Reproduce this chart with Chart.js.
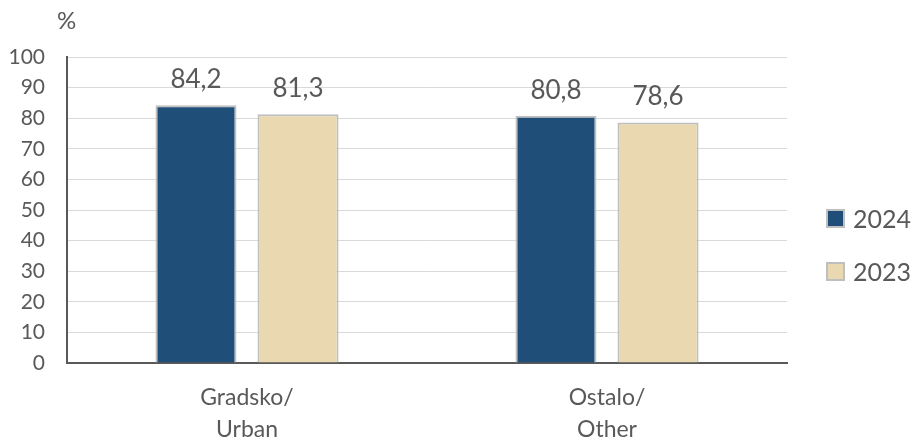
<!DOCTYPE html>
<html>
<head>
<meta charset="utf-8">
<script src="https://cdn.jsdelivr.net/npm/chart.js@4/dist/chart.umd.min.js"></script>
<style>
html,body{margin:0;padding:0;background:#fff;}
#wrap{width:912px;height:442px;position:relative;}
</style>
</head>
<body>
<div id="wrap"><canvas id="c" width="912" height="442"></canvas></div>
<script>
const categories = [["Gradsko/","Urban"],["Ostalo/","Other"]];
const series2024 = [84.2, 80.8];
const series2023 = [81.3, 78.6];
const seriesNames = ["2024","2023"];
const yTicks = [0,10,20,30,40,50,60,70,80,90,100];
const unitLabel = "%";

const FONT = "Lato, 'Open Sans', sans-serif";
const TEXT = "#595959";

const valueLabels = {
  id: 'valueLabels',
  afterDatasetsDraw(chart){
    const ctx = chart.ctx;
    ctx.save();
    ctx.font = "26px " + FONT;
    ctx.fillStyle = TEXT;
    ctx.textAlign = 'center';
    ctx.textBaseline = 'alphabetic';
    chart.data.datasets.forEach((ds, i) => {
      chart.getDatasetMeta(i).data.forEach((bar, j) => {
        ctx.fillText(ds.data[j].toFixed(1).replace('.', ','), bar.x, bar.y - 17);
      });
    });
    ctx.restore();
  }
};

const unitPlugin = {
  id: 'unitPlugin',
  afterDraw(chart){
    const ctx = chart.ctx;
    const s = chart.scales.y;
    ctx.save();
    ctx.font = "24px " + FONT;
    ctx.fillStyle = TEXT;
    ctx.textAlign = 'left';
    ctx.textBaseline = 'middle';
    ctx.fillText(unitLabel, s.right - 10, s.top - 36);
    ctx.restore();
  }
};

// legend drawn next to the plot area, from dataset labels/colours
const sideLegend = {
  id: 'sideLegend',
  afterDraw(chart){
    const ctx = chart.ctx;
    const area = chart.chartArea;
    const x0 = area.right + 40;
    const midY = (area.top + area.bottom) / 2 + 35;
    const step = 53;
    const n = chart.data.datasets.length;
    ctx.save();
    ctx.font = "25px " + FONT;
    ctx.textBaseline = 'middle';
    ctx.textAlign = 'left';
    chart.data.datasets.forEach((ds, i) => {
      const cy = midY + (i - (n - 1) / 2) * step;
      ctx.fillStyle = ds.backgroundColor;
      ctx.fillRect(x0, cy - 8.5, 17, 17);
      ctx.strokeStyle = ds.borderColor;
      ctx.lineWidth = 2;
      ctx.strokeRect(x0, cy - 8.5, 17, 17);
      ctx.fillStyle = TEXT;
      ctx.fillText(ds.label, x0 + 26, cy + 1);
    });
    ctx.restore();
  }
};

new Chart(document.getElementById('c'), {
  type: 'bar',
  data: {
    labels: categories,
    datasets: [
      {label: seriesNames[0], data: series2024, backgroundColor: '#1f4e79', borderColor: '#bfbfbf', borderWidth: 2, categoryPercentage: 0.567, barPercentage: 0.794},
      {label: seriesNames[1], data: series2023, backgroundColor: '#e9d8b0', borderColor: '#bfbfbf', borderWidth: 2, categoryPercentage: 0.567, barPercentage: 0.794}
    ]
  },
  options: {
    responsive: false,
    animation: false,
    layout: {padding: {top: 57, left: 0, right: 125, bottom: 0}},
    plugins: {
      legend: {display: false},
      tooltip: {enabled: false}
    },
    scales: {
      y: {
        min: 0, max: 100,
        afterBuildTicks(scale){ scale.ticks = yTicks.map(v => ({value: v})); },
        afterFit(scale){ scale.width = 67; },
        ticks: {font: {size: 21, family: FONT}, color: TEXT, padding: 22},
        grid: {color: '#d9d9d9', lineWidth: 1, drawTicks: false},
        border: {color: '#595959', width: 2}
      },
      x: {
        afterFit(scale){ scale.height = 79; },
        ticks: {font: {size: 23, family: FONT, lineHeight: 1.4}, color: TEXT, padding: 18},
        grid: {display: false, drawTicks: false},
        border: {color: '#595959', width: 2}
      }
    }
  },
  plugins: [valueLabels, unitPlugin, sideLegend]
});
</script>
</body>
</html>
